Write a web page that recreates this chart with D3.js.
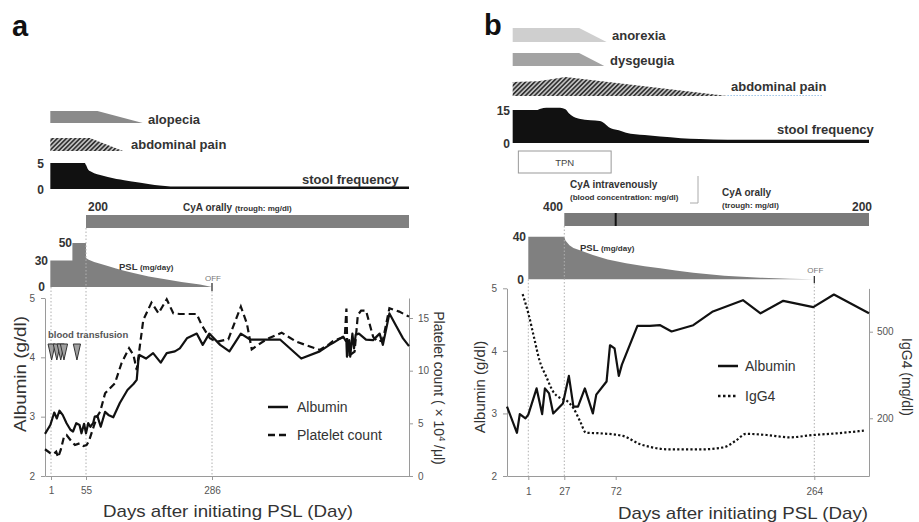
<!DOCTYPE html>
<html><head><meta charset="utf-8">
<script src="https://cdn.jsdelivr.net/npm/d3@7"></script>
<style>
body{margin:0;background:#fff}
svg{display:block}
text{font-family:"Liberation Sans",Arial,sans-serif}
</style></head>
<body><svg id="c" width="919" height="522"></svg>
<script>
// ================= DATA : panel a =================
const aDayBreaks = [-8, 1, 55, 286, 648];
const aTickDays = [1, 55, 286];
const aAlbTicks = [2, 3, 4, 5];
const aPltTicks = [0, 5, 10, 15];
const aAlbumin = [[-8,2.71],[0,2.86],[6,3.07],[10,2.97],[14,3.10],[19,3.03],[25,2.89],[31,2.78],[35,2.75],[40,2.89],[45,2.86],[48,2.72],[52,2.88],[55,2.72],[59,2.89],[63,2.83],[68,2.89],[71,3.00],[76,3.01],[82,2.83],[90,3.08],[96,3.03],[105,2.99],[117,3.23],[131,3.45],[142,3.55],[148,3.62],[151,3.95],[153,4.04],[165,3.98],[178,4.07],[192,3.91],[203,4.07],[218,4.10],[227,4.15],[240,4.32],[258,4.40],[269,4.21],[281,4.40],[301,4.21],[318,4.10],[339,4.40],[356,4.30],[411,4.30],[450,3.98],[484,4.10],[502,4.21],[508,4.24],[527,4.35],[533,4.26],[534,4.01],[538,4.29],[540,4.01],[544,4.40],[547,4.15],[550,4.38],[556,4.40],[569,4.30],[582,4.29],[594,4.40],[600,4.21],[612,4.74],[625,4.52],[637,4.32],[648,4.19]];
const aPlatelet = [[-8,2.54],[0,2.16],[5,2.09],[9,2.31],[12,1.77],[16,2.47],[21,3.73],[25,3.89],[33,3.26],[38,2.94],[45,3.10],[51,2.85],[56,2.94],[60,3.26],[65,4.05],[70,4.84],[76,5.70],[81,6.11],[90,7.85],[99,8.33],[108,8.80],[120,10.70],[134,12.13],[142,11.49],[148,10.07],[154,12.44],[160,14.81],[175,16.46],[188,15.45],[203,16.78],[215,15.45],[227,15.38],[258,15.38],[267,14.34],[282,13.08],[295,12.75],[316,12.98],[339,16.08],[350,14.50],[359,12.03],[386,12.98],[414,13.61],[441,12.75],[484,11.97],[502,12.54],[508,12.8],[530,13.23],[533,15.9],[535,11.33],[548,11.8],[554,15.29],[560,15.70],[569,15.70],[582,13.23],[591,12.75],[600,12.9],[612,15.93],[630,15.61],[648,15.13]];
const aStool = [[0,5],[53,5],[55,4.6],[58,3.9],[63,3.4],[70,3.05],[81,2.7],[95,2.3],[111,1.9],[125,1.7],[136,1.5],[155,1.2],[172,0.9],[190,0.65],[210,0.5],[648,0.5]];
const aStoolTicks = [0, 5];
const aPSL = [[0,30],[34,30],[34,50],[55,50],[55,33],[60,31],[70,28.5],[81,26.5],[95,24],[110,21],[125,18.5],[142,16],[170,12],[203,8.5],[230,5.8],[264,2.8],[286,0]];
const aPSLTicks = [0, 30, 50];
const aAlopecia = [[0,1],[76,1],[159,0]];
const aAbdPain = [[0,1],[62,1],[123,0]];
const aTransfusion = [2, 10, 16, 21, 41];
const aCyA = [55, 648];
const aCyALevel = 200;
const aPSLOff = 286;

// ================= DATA : panel b =================
const bDayBreaks = [-14, 1, 27, 72, 264, 317];
const bTickDays = [1, 27, 72, 264];
const bAlbTicks = [2, 3, 4, 5];
const bIgG4Ticks = [200, 500];
const bAlbumin = [[-14,3.11],[-7,2.69],[-5,2.99],[-1,2.92],[1,2.98],[7,3.40],[11,2.99],[13,3.40],[16,3.32],[19,3.00],[26,3.16],[31,3.60],[35,3.11],[39,3.11],[45,3.40],[52,3.00],[55,3.30],[64,3.51],[67,4.09],[71,4.04],[75,3.60],[78,3.78],[93,4.40],[105,4.40],[115,4.41],[126,4.31],[147,4.41],[166,4.63],[195,4.81],[212,4.60],[234,4.80],[263,4.70],[283,4.90],[317,4.60]];
const bIgG4 = [[-3,630],[1,564],[5,483],[9,402],[14,344],[19,292],[24,270],[29,261],[35,235],[41,188],[46,150],[58,148],[79,139],[95,111],[105,101],[124,92],[153,92],[176,99],[188,122],[198,146],[218,142],[240,134],[263,142],[286,148],[312,157]];
const bStool = [[-10,15],[7,15],[10,15.6],[14,16],[24,16],[28,15.3],[31,13.5],[34,12.3],[40,11],[50,10.3],[58,10],[62,9],[66,7.2],[75,5.8],[82,4.7],[100,3.6],[115,2.9],[135,2.2],[153,1.8],[180,1.5],[317,1.5]];
const bStoolTicks = [0, 15];
const bPSL = [[1,40],[27,40],[28,36.5],[31.5,32],[35,29.5],[40,27.5],[52,22.8],[65,18.5],[82,15],[100,12.3],[115,10.3],[130,8.2],[147,6.2],[177,3.4],[212,1.5],[240,0.6],[264,0]];
const bPSLTicks = [0, 40];
const bAnorexia = [[-10,1],[40,1],[64,0]];
const bDysgeugia = [[-10,1],[40,1],[62,0]];
const bAbdPain = [[-10,1],[8,1.05],[28,1.36],[180,0]];
const bAbdPainTail = [180, 272];
const bTPN = [-6, 68];
const bCyAIV = [27, 72];
const bCyAOral = [72, 317];
const bCyAIVLevel = 400, bCyAOralLevel = 200;
const bPSLOff = 264;

// ================= DRAWING =================
const svg = d3.select('#c');
const FONT = '"Liberation Sans",Arial,sans-serif';
const defs = svg.append('defs');
const ph = defs.append('pattern').attr('id','hatch').attr('patternUnits','userSpaceOnUse')
  .attr('width',3.2).attr('height',3.2).attr('patternTransform','rotate(45)');
ph.append('rect').attr('width',3.2).attr('height',3.2).attr('fill','#c4c4c4');
ph.append('line').attr('x1',0.8).attr('y1',0).attr('x2',0.8).attr('y2',3.2).attr('stroke','#333').attr('stroke-width',1.7);

function txt(x, y, s, o) {
  o = o || {};
  const t = svg.append('text').attr('x', x).attr('y', y).text(s)
    .style('font-size', (o.size || 12) + 'px')
    .style('font-weight', o.bold ? 'bold' : 'normal')
    .attr('fill', o.fill || '#333')
    .attr('text-anchor', o.anchor || 'start');
  if (o.len) t.attr('textLength', o.len).attr('lengthAdjust', 'spacingAndGlyphs');
  if (o.rotate) t.attr('transform', `rotate(${o.rotate},${x},${y})`);
  return t;
}
function styleAxis(g, size) {
  g.selectAll('path.domain').attr('stroke', '#9a9a9a');
  g.selectAll('.tick line').attr('stroke', '#9a9a9a');
  g.selectAll('.tick text').attr('fill', '#555').style('font-size', (size||10) + 'px').style('font-family', FONT);
}
function vdot(x, y0, y1) {
  svg.append('line').attr('x1', x).attr('x2', x).attr('y1', y0).attr('y2', y1)
    .attr('stroke', '#b0b0b0').attr('stroke-width', 1).attr('stroke-dasharray', '1.5,2');
}
function band(data, x, y0, y1, fill) {
  const y = d3.scaleLinear().domain([0, 1]).range([y0, y1]);
  svg.append('path').datum(data)
    .attr('d', d3.area().x(d => x(d[0])).y0(y0).y1(d => y(d[1])))
    .attr('fill', fill);
}

// ---------- panel a ----------
const xA = d3.scaleLinear().domain(aDayBreaks).range([45, 51, 86, 212, 409]);
const yAlbA = d3.scaleLinear().domain([2, 5]).range([476, 298]);
const yPlt = d3.scaleLinear().domain([0, 16.9]).range([476, 298]);
const yStoolA = d3.scaleLinear().domain([0, 5]).range([189, 163]);
const yPSLA = d3.scaleLinear().domain([0, 50]).range([287, 243]);

txt(12, 36, 'a', {size: 29, bold: true, fill: '#111'});

band(aAlopecia, xA, 123, 111, '#8a8a8a');
txt(148, 124, 'alopecia', {size: 13, bold: true});
band(aAbdPain, xA, 151, 138, 'url(#hatch)');
txt(131, 149, 'abdominal pain', {size: 13, bold: true});

svg.append('path').datum(aStool)
  .attr('d', d3.area().x(d => xA(d[0])).y0(yStoolA(0)).y1(d => yStoolA(d[1])).curve(d3.curveMonotoneX))
  .attr('fill', '#111');
aStoolTicks.forEach(v => txt(44, yStoolA(v) + 4.5, v, {size: 12, bold: true, anchor: 'end'}));
txt(302, 184, 'stool frequency', {size: 13, bold: true});

svg.append('rect').attr('x', xA(aCyA[0])).attr('width', xA(aCyA[1]) - xA(aCyA[0]))
  .attr('y', 215).attr('height', 13).attr('fill', '#808080');
txt(88, 211, aCyALevel, {size: 12, bold: true});
const cyaT = txt(183, 211, '', {size: 10, bold: true});
cyaT.append('tspan').text('CyA orally ');
cyaT.append('tspan').text('(trough: mg/dl)').style('font-size', '8px');

svg.append('path').datum(aPSL)
  .attr('d', d3.area().x(d => xA(d[0])).y0(yPSLA(0)).y1(d => yPSLA(d[1])))
  .attr('fill', '#808080');
txt(72, yPSLA(50) + 4, '50', {size: 12, bold: true, anchor: 'end'});
txt(48, yPSLA(30) + 4, '30', {size: 12, bold: true, anchor: 'end'});
txt(45, yPSLA(0) + 4, '0', {size: 12, bold: true, anchor: 'end'});
const pslA = txt(119, 270, '', {size: 9.5, bold: true});
pslA.append('tspan').text('PSL ');
pslA.append('tspan').text('(mg/day)').style('font-size', '8px');
txt(xA(aPSLOff) - 7, 281, 'OFF', {size: 8, fill: '#777'});
svg.append('line').attr('x1', xA(aPSLOff)).attr('x2', xA(aPSLOff)).attr('y1', 283).attr('y2', 291).attr('stroke', '#222').attr('stroke-width', 1.2);

vdot(xA(1), yPSLA(0), 476);
vdot(xA(55), 228, 476);
vdot(xA(286), 291, 476);

const gaL = svg.append('g').attr('transform', 'translate(45,0)')
  .call(d3.axisLeft(yAlbA).tickValues(aAlbTicks).tickSize(4).tickSizeOuter(0).tickPadding(6).tickFormat(d3.format('d')));
styleAxis(gaL);
const gaB = svg.append('g').attr('transform', 'translate(0,476)')
  .call(d3.axisBottom(xA).tickValues(aTickDays).tickSize(4).tickSizeOuter(0).tickPadding(7).tickFormat(d3.format('d')));
styleAxis(gaB);
const gaR = svg.append('g').attr('transform', 'translate(409,0)')
  .call(d3.axisRight(yPlt).tickValues(aPltTicks).tickSize(4).tickSizeOuter(0).tickPadding(5).tickFormat(d3.format('d')));
styleAxis(gaR);

txt(48, 338, 'blood transfusion', {size: 9.5, bold: true, fill: '#555'});
svg.selectAll('path.tri').data(aTransfusion).enter().append('path')
  .attr('d', d => `M${xA(d) - 3.6},344 L${xA(d) + 3.6},344 L${xA(d)},360 Z`)
  .attr('fill', '#a0a0a0').attr('stroke', '#333').attr('stroke-width', 1);

svg.append('path').datum(aPlatelet)
  .attr('d', d3.line().x(d => xA(d[0])).y(d => yPlt(d[1])))
  .attr('fill', 'none').attr('stroke', '#111').attr('stroke-width', 2.2).attr('stroke-dasharray', '7,4');
svg.append('path').datum(aAlbumin)
  .attr('d', d3.line().x(d => xA(d[0])).y(d => yAlbA(d[1])))
  .attr('fill', 'none').attr('stroke', '#111').attr('stroke-width', 2.2).attr('stroke-linejoin', 'round');

svg.append('line').attr('x1', 268).attr('x2', 288).attr('y1', 407).attr('y2', 407).attr('stroke', '#111').attr('stroke-width', 2.5);
txt(297, 412, 'Albumin', {size: 14});
svg.append('line').attr('x1', 268).attr('x2', 290).attr('y1', 435).attr('y2', 435).attr('stroke', '#111').attr('stroke-width', 2.5).attr('stroke-dasharray', '7,4');
txt(297, 440, 'Platelet count', {size: 14});

txt(26, 374, 'Albumin (g/dl)', {size: 17, anchor: 'middle', rotate: -90, len: 116});
const prt = txt(434, 388, '', {size: 14, anchor: 'middle', rotate: 90});
prt.append('tspan').text('Platelet count ( × 10');
prt.append('tspan').text('4').attr('dy', -5).style('font-size', '9px');
prt.append('tspan').text(' /μl)').attr('dy', 5);
txt(228, 517, 'Days after initiating PSL (Day)', {size: 17, anchor: 'middle', len: 250});

// ---------- panel b ----------
const xB = d3.scaleLinear().domain(bDayBreaks).range([507, 528.3, 564.3, 615.7, 814.3, 869]);
const yAlbB = d3.scaleLinear().domain([2, 5]).range([476, 288.3]);
const yIgG4 = d3.scaleLinear().domain([0, 650]).range([476, 288.4]);
const yStoolB = d3.scaleLinear().domain([0, 15]).range([143, 110]);
const yPSLB = d3.scaleLinear().domain([0, 40]).range([279.3, 236.7]);

txt(484, 35, 'b', {size: 29, bold: true, fill: '#111'});

band(bAnorexia, xB, 42, 28, '#cfcfcf');
txt(612, 40, 'anorexia', {size: 13, bold: true});
band(bDysgeugia, xB, 66, 53, '#a3a3a3');
txt(610, 65, 'dysgeugia', {size: 13, bold: true});
band(bAbdPain, xB, 96, 82, 'url(#hatch)');
svg.append('line').attr('x1', xB(bAbdPainTail[0])).attr('x2', xB(bAbdPainTail[1])).attr('y1', 95.5).attr('y2', 95.5)
  .attr('stroke', '#9cc3e6').attr('stroke-width', 1.2).attr('stroke-dasharray', '1.5,1.5');
txt(731, 91, 'abdominal pain', {size: 13, bold: true});

svg.append('path').datum(bStool)
  .attr('d', d3.area().x(d => xB(d[0])).y0(yStoolB(0)).y1(d => yStoolB(d[1])).curve(d3.curveMonotoneX))
  .attr('fill', '#111');
bStoolTicks.forEach(v => txt(510, yStoolB(v) + 4.5, v, {size: 12, bold: true, anchor: 'end'}));
txt(777, 134, 'stool frequency', {size: 13, bold: true});

svg.append('rect').attr('x', xB(bTPN[0])).attr('width', xB(bTPN[1]) - xB(bTPN[0]))
  .attr('y', 151).attr('height', 22).attr('fill', '#fff').attr('stroke', '#999').attr('stroke-width', 1);
txt((xB(bTPN[0]) + xB(bTPN[1])) / 2, 165.5, 'TPN', {size: 9.5, anchor: 'middle', fill: '#444'});

txt(570, 188, 'CyA intravenously', {size: 10, bold: true});
txt(570, 200, '(blood concentration: mg/dl)', {size: 8, bold: true});
svg.append('path').attr('d', 'M698,176 L698,203 L690,203').attr('fill', 'none').attr('stroke', '#aaa').attr('stroke-width', 1);
txt(722, 196, 'CyA orally', {size: 10, bold: true});
txt(722, 208, '(trough: mg/dl)', {size: 8, bold: true});
svg.append('rect').attr('x', xB(bCyAIV[0])).attr('width', xB(bCyAOral[1]) - xB(bCyAIV[0]))
  .attr('y', 213).attr('height', 13).attr('fill', '#7a7a7a');
svg.append('line').attr('x1', xB(bCyAOral[0])).attr('x2', xB(bCyAOral[0])).attr('y1', 213).attr('y2', 226)
  .attr('stroke', '#111').attr('stroke-width', 2);
txt(563, 211, bCyAIVLevel, {size: 12, bold: true, anchor: 'end'});
txt(872, 211, bCyAOralLevel, {size: 12, bold: true, anchor: 'end'});

svg.append('path').datum(bPSL)
  .attr('d', d3.area().x(d => xB(d[0])).y0(yPSLB(0)).y1(d => yPSLB(d[1])))
  .attr('fill', '#808080');
txt(526, yPSLB(40) + 4.5, '40', {size: 12, bold: true, anchor: 'end'});
txt(524, yPSLB(0) + 4.5, '0', {size: 12, bold: true, anchor: 'end'});
const pslB = txt(580, 251, '', {size: 9.5, bold: true});
pslB.append('tspan').text('PSL ');
pslB.append('tspan').text('(mg/day)').style('font-size', '8px');
txt(xB(bPSLOff) - 7, 273, 'OFF', {size: 8, fill: '#777'});
svg.append('line').attr('x1', xB(bPSLOff)).attr('x2', xB(bPSLOff)).attr('y1', 276).attr('y2', 283).attr('stroke', '#222').attr('stroke-width', 1.2);

vdot(xB(1), yPSLB(0), 476);
vdot(xB(27), 226, 476);
vdot(xB(264), 283, 476);

const gbL = svg.append('g').attr('transform', 'translate(507,0)')
  .call(d3.axisLeft(yAlbB).tickValues(bAlbTicks).tickSize(4).tickSizeOuter(0).tickPadding(6).tickFormat(d3.format('d')));
styleAxis(gbL);
const gbB = svg.append('g').attr('transform', 'translate(0,476)')
  .call(d3.axisBottom(xB).tickValues(bTickDays).tickSize(4).tickSizeOuter(0).tickPadding(8).tickFormat(d3.format('d')));
styleAxis(gbB);
const gbR = svg.append('g').attr('transform', 'translate(869,0)')
  .call(d3.axisRight(yIgG4).tickValues(bIgG4Ticks).tickSize(4).tickSizeOuter(0).tickPadding(4).tickFormat(d3.format('d')));
styleAxis(gbR);

svg.append('path').datum(bIgG4)
  .attr('d', d3.line().x(d => xB(d[0])).y(d => yIgG4(d[1])).curve(d3.curveMonotoneX))
  .attr('fill', 'none').attr('stroke', '#111').attr('stroke-width', 2.2).attr('stroke-dasharray', '2.2,2.2');
svg.append('path').datum(bAlbumin)
  .attr('d', d3.line().x(d => xB(d[0])).y(d => yAlbB(d[1])))
  .attr('fill', 'none').attr('stroke', '#111').attr('stroke-width', 2.2).attr('stroke-linejoin', 'round');

svg.append('line').attr('x1', 718).attr('x2', 738).attr('y1', 366).attr('y2', 366).attr('stroke', '#111').attr('stroke-width', 2.5);
txt(745, 371, 'Albumin', {size: 14});
svg.append('line').attr('x1', 718).attr('x2', 738).attr('y1', 396).attr('y2', 396).attr('stroke', '#111').attr('stroke-width', 2.5).attr('stroke-dasharray', '2.5,2.5');
txt(745, 401, 'IgG4', {size: 14});

txt(485, 387, 'Albumin (g/dl)', {size: 15, anchor: 'middle', rotate: -90});
txt(902, 377, 'IgG4 (mg/dl)', {size: 14, anchor: 'middle', rotate: 90});
txt(743, 519, 'Days after initiating PSL (Day)', {size: 17, anchor: 'middle', len: 250});
</script></body></html>
